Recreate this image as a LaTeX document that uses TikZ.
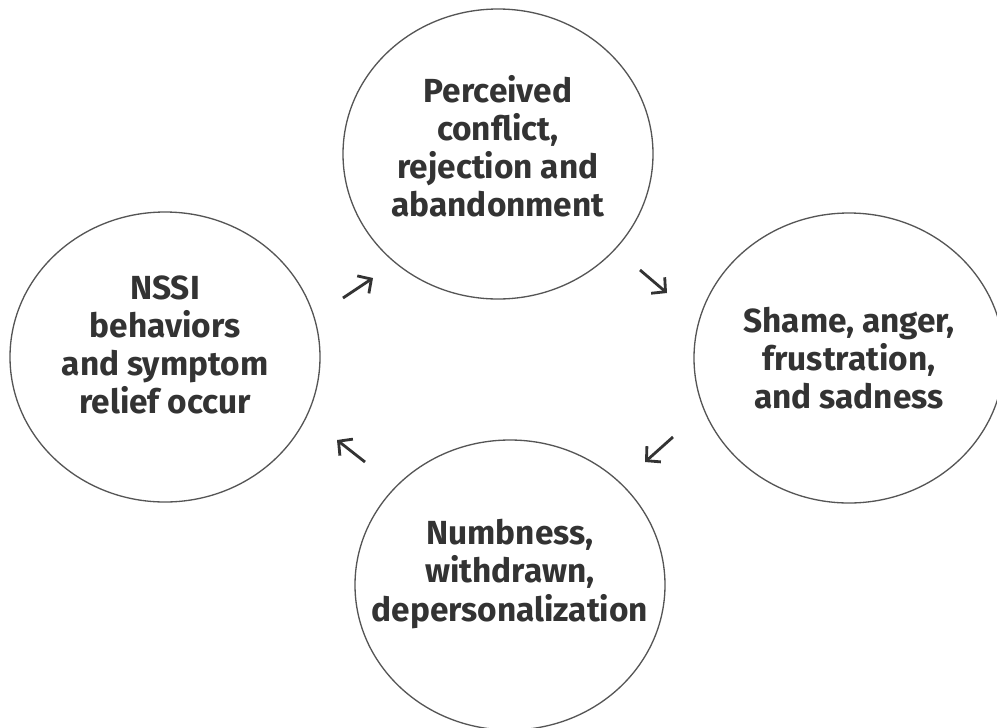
\documentclass[tikz,border=0pt]{standalone}
\usepackage{fontspec}
\setmainfont{Fira Sans}
\usepackage{tikz}
\usetikzlibrary{
    shapes.geometric,
    arrows.meta,
}
\definecolor{ringgray}{HTML}{555555}
\definecolor{inkgray}{HTML}{333333}
\newcommand{\cellwidth}{6.2cm}
\newcommand{\cellheight}{5.8cm}
\tikzstyle{cyclearrow} = [
  -{Straight Barb[length=2mm,width=4.2mm]},
  line width=1.6pt,
  color=inkgray,
]
\tikzstyle{cyclestate} = [
  draw,
  shape=ellipse,
  color=ringgray,
  line width=0.75pt,
  inner sep=0pt,
  minimum width=\cellwidth,
  minimum height=\cellheight,
]
\tikzstyle{celltext} = [
  align=center,
  text=inkgray,
  inner sep=0pt,
  font=\bfseries\fontsize{19}{21.7}\selectfont,
]

\begin{document}
\begin{tikzpicture}
    \useasboundingbox[fill=white] (0,0) rectangle (19.94,-14.54);
    \node[cyclestate] (conflict) at (9.96,-3.08) {};
    \node[cyclestate] (shame) at (16.98,-7.16) {};
    \node[cyclestate] (numbness) at (10.2,-11.7) {};
    \node[cyclestate] (nssi) at (3.3,-7.14) {};
    \node[celltext] (conflicttext) at ([yshift=0.16cm]conflict.center) {Perceived\\conflict,\\rejection and\\abandonment};
    \node[celltext] (shametext) at (shame.center) {Shame, anger,\\frustration,\\and sadness};
    \node[celltext] (numbnesstext) at ([yshift=0.22cm]numbness.center) {Numbness,\\withdrawn,\\depersonalization};
    \node[celltext] (nssitext) at ([yshift=0.24cm]nssi.center) {NSSI\\behaviors\\and symptom\\relief occur};
    % arrow ends between the states
    \coordinate (nssiout) at (6.86,-5.96);
    \coordinate (conflictin) at (7.46,-5.56);
    \coordinate (conflictout) at (12.8,-5.4);
    \coordinate (shamein) at (13.34,-5.86);
    \coordinate (shameout) at (13.46,-8.74);
    \coordinate (numbnessin) at (12.9,-9.24);
    \coordinate (numbnessout) at (7.3,-9.24);
    \coordinate (nssiin) at (6.74,-8.8);
    \draw[cyclearrow] (nssiout) -- (conflictin);
    \draw[cyclearrow] (conflictout) -- (shamein);
    \draw[cyclearrow] (shameout) -- (numbnessin);
    \draw[cyclearrow] (numbnessout) -- (nssiin);
\end{tikzpicture}
\end{document}
